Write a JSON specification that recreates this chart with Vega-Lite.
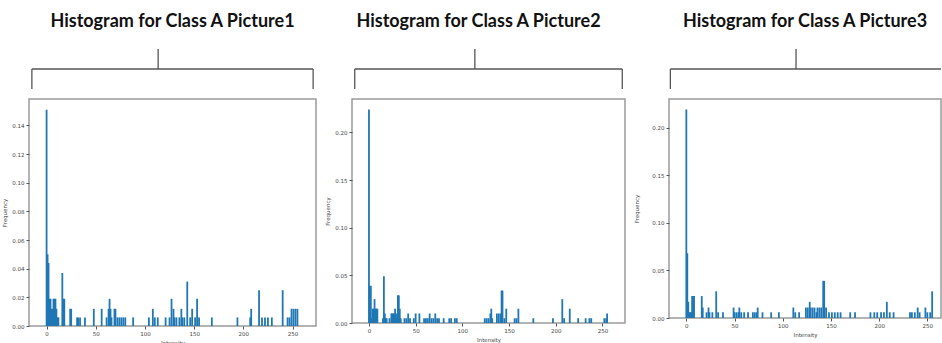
{
  "$schema": "https://vega.github.io/schema/vega-lite/v6.json",
  "padding": {"left": 2, "top": 13, "right": 0, "bottom": 0},
  "background": "white",
  "spacing": 8,
  "config": {
    "view": {"stroke": "#9a9a9a", "strokeWidth": 1.5},
    "axis": {"grid": false, "domain": false, "labelFont": "DejaVu Sans", "labelFontSize": 5.5, "labelColor": "#444", "tickColor": "#555", "tickSize": 3, "labelPadding": 2, "titleFont": "DejaVu Sans", "titleFontSize": 5.5, "titleFontWeight": "normal", "titleColor": "#444"},
    "title": {"font": "Lato", "fontSize": 18, "fontWeight": "bold", "color": "#111", "offset": 17}
  },
  "datasets": {
    "bracket": [
      {"part": "bar", "x": 0.01, "x2": 0.99, "y": 0.5, "y2": 0.5},
      {"part": "stem", "x": 0.45, "x2": 0.45, "y": 0.5, "y2": 1},
      {"part": "left", "x": 0.01, "x2": 0.01, "y": 0, "y2": 0.5},
      {"part": "right", "x": 0.99, "x2": 0.99, "y": 0, "y2": 0.5}
    ],
    "bracket3": [
      {"part": "bar", "x": 0.005, "x2": 1, "y": 0.5, "y2": 0.5},
      {"part": "stem", "x": 0.467, "x2": 0.467, "y": 0.5, "y2": 1},
      {"part": "left", "x": 0.005, "x2": 0.005, "y": 0, "y2": 0.5}
    ],
    "p1": [
      {"intensity": 0, "freq": 0.151}, {"intensity": 1, "freq": 0.050}, {"intensity": 2, "freq": 0.044},
      {"intensity": 3, "freq": 0.019}, {"intensity": 4, "freq": 0.019}, {"intensity": 5, "freq": 0.012},
      {"intensity": 6, "freq": 0.012}, {"intensity": 7, "freq": 0.019}, {"intensity": 8, "freq": 0.019},
      {"intensity": 9, "freq": 0.019}, {"intensity": 10, "freq": 0.012}, {"intensity": 11, "freq": 0.006},
      {"intensity": 12, "freq": 0.006}, {"intensity": 16, "freq": 0.037}, {"intensity": 17, "freq": 0.019},
      {"intensity": 18, "freq": 0.019}, {"intensity": 24, "freq": 0.012}, {"intensity": 25, "freq": 0.012},
      {"intensity": 31, "freq": 0.006}, {"intensity": 32, "freq": 0.006}, {"intensity": 34, "freq": 0.006},
      {"intensity": 39, "freq": 0.006}, {"intensity": 48, "freq": 0.012}, {"intensity": 56, "freq": 0.012},
      {"intensity": 61, "freq": 0.006}, {"intensity": 63, "freq": 0.012}, {"intensity": 64, "freq": 0.019},
      {"intensity": 65, "freq": 0.012}, {"intensity": 66, "freq": 0.006}, {"intensity": 69, "freq": 0.012},
      {"intensity": 70, "freq": 0.012}, {"intensity": 72, "freq": 0.006}, {"intensity": 74, "freq": 0.006},
      {"intensity": 76, "freq": 0.006}, {"intensity": 78, "freq": 0.006}, {"intensity": 80, "freq": 0.006},
      {"intensity": 88, "freq": 0.006}, {"intensity": 104, "freq": 0.006}, {"intensity": 108, "freq": 0.012},
      {"intensity": 110, "freq": 0.006}, {"intensity": 113, "freq": 0.006}, {"intensity": 121, "freq": 0.006},
      {"intensity": 125, "freq": 0.006}, {"intensity": 127, "freq": 0.019}, {"intensity": 129, "freq": 0.012},
      {"intensity": 130, "freq": 0.006}, {"intensity": 132, "freq": 0.006}, {"intensity": 135, "freq": 0.006},
      {"intensity": 137, "freq": 0.012}, {"intensity": 138, "freq": 0.006}, {"intensity": 140, "freq": 0.006},
      {"intensity": 143, "freq": 0.031}, {"intensity": 146, "freq": 0.006}, {"intensity": 148, "freq": 0.012},
      {"intensity": 151, "freq": 0.006}, {"intensity": 153, "freq": 0.019}, {"intensity": 155, "freq": 0.006},
      {"intensity": 168, "freq": 0.006}, {"intensity": 194, "freq": 0.006}, {"intensity": 207, "freq": 0.006},
      {"intensity": 208, "freq": 0.012}, {"intensity": 216, "freq": 0.025}, {"intensity": 219, "freq": 0.006},
      {"intensity": 222, "freq": 0.006}, {"intensity": 225, "freq": 0.006}, {"intensity": 229, "freq": 0.006},
      {"intensity": 240, "freq": 0.025}, {"intensity": 245, "freq": 0.006}, {"intensity": 247, "freq": 0.006},
      {"intensity": 249, "freq": 0.012}, {"intensity": 251, "freq": 0.012}, {"intensity": 253, "freq": 0.012},
      {"intensity": 255, "freq": 0.012}
    ],
    "p2": [
      {"intensity": 0, "freq": 0.224}, {"intensity": 1, "freq": 0.039}, {"intensity": 2, "freq": 0.039},
      {"intensity": 3, "freq": 0.005}, {"intensity": 4, "freq": 0.015}, {"intensity": 5, "freq": 0.015},
      {"intensity": 6, "freq": 0.025}, {"intensity": 7, "freq": 0.015}, {"intensity": 8, "freq": 0.015},
      {"intensity": 9, "freq": 0.015}, {"intensity": 15, "freq": 0.005}, {"intensity": 16, "freq": 0.049},
      {"intensity": 17, "freq": 0.010}, {"intensity": 18, "freq": 0.005}, {"intensity": 19, "freq": 0.005},
      {"intensity": 22, "freq": 0.005}, {"intensity": 24, "freq": 0.010}, {"intensity": 25, "freq": 0.010},
      {"intensity": 26, "freq": 0.010}, {"intensity": 27, "freq": 0.010}, {"intensity": 28, "freq": 0.015},
      {"intensity": 29, "freq": 0.005}, {"intensity": 30, "freq": 0.010}, {"intensity": 31, "freq": 0.029},
      {"intensity": 32, "freq": 0.029}, {"intensity": 33, "freq": 0.015}, {"intensity": 34, "freq": 0.005},
      {"intensity": 38, "freq": 0.005}, {"intensity": 40, "freq": 0.005}, {"intensity": 42, "freq": 0.010},
      {"intensity": 44, "freq": 0.005}, {"intensity": 48, "freq": 0.005}, {"intensity": 50, "freq": 0.010},
      {"intensity": 54, "freq": 0.010}, {"intensity": 59, "freq": 0.005}, {"intensity": 61, "freq": 0.005},
      {"intensity": 63, "freq": 0.005}, {"intensity": 65, "freq": 0.010}, {"intensity": 67, "freq": 0.005},
      {"intensity": 69, "freq": 0.005}, {"intensity": 71, "freq": 0.010}, {"intensity": 73, "freq": 0.005},
      {"intensity": 75, "freq": 0.005}, {"intensity": 80, "freq": 0.005}, {"intensity": 86, "freq": 0.005},
      {"intensity": 88, "freq": 0.005}, {"intensity": 92, "freq": 0.005}, {"intensity": 94, "freq": 0.005},
      {"intensity": 124, "freq": 0.005}, {"intensity": 126, "freq": 0.005}, {"intensity": 128, "freq": 0.005},
      {"intensity": 130, "freq": 0.010}, {"intensity": 131, "freq": 0.015}, {"intensity": 132, "freq": 0.005},
      {"intensity": 137, "freq": 0.010}, {"intensity": 139, "freq": 0.010}, {"intensity": 141, "freq": 0.010},
      {"intensity": 142, "freq": 0.034}, {"intensity": 143, "freq": 0.034}, {"intensity": 145, "freq": 0.005},
      {"intensity": 147, "freq": 0.015}, {"intensity": 156, "freq": 0.005}, {"intensity": 158, "freq": 0.005},
      {"intensity": 160, "freq": 0.015}, {"intensity": 176, "freq": 0.005}, {"intensity": 197, "freq": 0.005},
      {"intensity": 207, "freq": 0.025}, {"intensity": 209, "freq": 0.005}, {"intensity": 215, "freq": 0.015},
      {"intensity": 224, "freq": 0.005}, {"intensity": 232, "freq": 0.005}, {"intensity": 236, "freq": 0.005},
      {"intensity": 238, "freq": 0.005}, {"intensity": 252, "freq": 0.005}, {"intensity": 254, "freq": 0.005},
      {"intensity": 255, "freq": 0.010}
    ],
    "p3": [
      {"intensity": 0, "freq": 0.219}, {"intensity": 1, "freq": 0.068}, {"intensity": 2, "freq": 0.017},
      {"intensity": 3, "freq": 0.006}, {"intensity": 4, "freq": 0.006}, {"intensity": 5, "freq": 0.006},
      {"intensity": 6, "freq": 0.023}, {"intensity": 7, "freq": 0.023}, {"intensity": 8, "freq": 0.023},
      {"intensity": 16, "freq": 0.023}, {"intensity": 17, "freq": 0.011}, {"intensity": 21, "freq": 0.006},
      {"intensity": 23, "freq": 0.011}, {"intensity": 24, "freq": 0.006}, {"intensity": 27, "freq": 0.006},
      {"intensity": 31, "freq": 0.028}, {"intensity": 33, "freq": 0.006}, {"intensity": 38, "freq": 0.006},
      {"intensity": 49, "freq": 0.011}, {"intensity": 50, "freq": 0.006}, {"intensity": 52, "freq": 0.006},
      {"intensity": 54, "freq": 0.006}, {"intensity": 55, "freq": 0.011}, {"intensity": 57, "freq": 0.006},
      {"intensity": 60, "freq": 0.006}, {"intensity": 64, "freq": 0.006}, {"intensity": 69, "freq": 0.006},
      {"intensity": 71, "freq": 0.006}, {"intensity": 73, "freq": 0.006}, {"intensity": 74, "freq": 0.011},
      {"intensity": 79, "freq": 0.006}, {"intensity": 88, "freq": 0.006}, {"intensity": 96, "freq": 0.006},
      {"intensity": 111, "freq": 0.011}, {"intensity": 113, "freq": 0.006}, {"intensity": 117, "freq": 0.006},
      {"intensity": 124, "freq": 0.011}, {"intensity": 126, "freq": 0.011}, {"intensity": 128, "freq": 0.017},
      {"intensity": 129, "freq": 0.011}, {"intensity": 131, "freq": 0.011}, {"intensity": 133, "freq": 0.011},
      {"intensity": 135, "freq": 0.006}, {"intensity": 136, "freq": 0.011}, {"intensity": 138, "freq": 0.011},
      {"intensity": 140, "freq": 0.011}, {"intensity": 142, "freq": 0.039}, {"intensity": 143, "freq": 0.039},
      {"intensity": 145, "freq": 0.011}, {"intensity": 148, "freq": 0.006}, {"intensity": 151, "freq": 0.006},
      {"intensity": 154, "freq": 0.006}, {"intensity": 157, "freq": 0.006}, {"intensity": 160, "freq": 0.006},
      {"intensity": 170, "freq": 0.006}, {"intensity": 175, "freq": 0.006}, {"intensity": 191, "freq": 0.006},
      {"intensity": 195, "freq": 0.006}, {"intensity": 198, "freq": 0.006}, {"intensity": 202, "freq": 0.006},
      {"intensity": 205, "freq": 0.006}, {"intensity": 208, "freq": 0.017}, {"intensity": 211, "freq": 0.006},
      {"intensity": 215, "freq": 0.006}, {"intensity": 232, "freq": 0.006}, {"intensity": 234, "freq": 0.006},
      {"intensity": 237, "freq": 0.006}, {"intensity": 240, "freq": 0.011}, {"intensity": 242, "freq": 0.006},
      {"intensity": 248, "freq": 0.011}, {"intensity": 250, "freq": 0.006}, {"intensity": 253, "freq": 0.006},
      {"intensity": 255, "freq": 0.028}
    ]
  },
  "hconcat": [
    {
      "spacing": 8,
      "vconcat": [
        {
          "title": "Histogram for Class A Picture1",
          "width": 287, "height": 40,
          "view": {"stroke": null},
          "data": {"name": "bracket"},
          "mark": {"type": "rule", "color": "#555", "strokeWidth": 1.3},
          "encoding": {
            "x": {"field": "x", "type": "quantitative", "scale": {"domain": [0, 1]}, "axis": null},
            "x2": {"field": "x2"},
            "y": {"field": "y", "type": "quantitative", "scale": {"domain": [0, 1]}, "axis": null},
            "y2": {"field": "y2"}
          }
        },
        {
          "width": 287, "height": 227,
          "data": {"name": "p1"},
          "mark": {"type": "bar", "color": "#1f77b4", "size": 1.8},
          "encoding": {
            "x": {"field": "intensity", "type": "quantitative", "title": "Intensity", "scale": {"domain": [-12.8, 268.8], "nice": false, "zero": false}, "axis": {"values": [0, 50, 100, 150, 200, 250]}},
            "y": {"field": "freq", "type": "quantitative", "title": "Frequency", "scale": {"domain": [0, 0.1585], "nice": false}, "axis": {"values": [0, 0.02, 0.04, 0.06, 0.08, 0.1, 0.12, 0.14], "format": ".2f"}}
          }
        }
      ]
    },
    {
      "spacing": 8,
      "vconcat": [
        {
          "title": {"text": "Histogram for Class A Picture2", "dx": -10},
          "width": 273, "height": 40,
          "view": {"stroke": null},
          "data": {"name": "bracket"},
          "mark": {"type": "rule", "color": "#555", "strokeWidth": 1.3},
          "encoding": {
            "x": {"field": "x", "type": "quantitative", "scale": {"domain": [0, 1]}, "axis": null},
            "x2": {"field": "x2"},
            "y": {"field": "y", "type": "quantitative", "scale": {"domain": [0, 1]}, "axis": null},
            "y2": {"field": "y2"}
          }
        },
        {
          "width": 273, "height": 224,
          "data": {"name": "p2"},
          "mark": {"type": "bar", "color": "#1f77b4", "size": 1.8},
          "encoding": {
            "x": {"field": "intensity", "type": "quantitative", "title": "Intensity", "scale": {"domain": [-12.8, 268.8], "nice": false, "zero": false}, "axis": {"values": [0, 50, 100, 150, 200, 250]}},
            "y": {"field": "freq", "type": "quantitative", "title": "Frequency", "scale": {"domain": [0, 0.235], "nice": false}, "axis": {"values": [0, 0.05, 0.1, 0.15, 0.2], "format": ".2f"}}
          }
        }
      ]
    },
    {
      "spacing": 8,
      "vconcat": [
        {
          "title": "Histogram for Class A Picture3",
          "width": 272, "height": 40,
          "view": {"stroke": null},
          "data": {"name": "bracket3"},
          "mark": {"type": "rule", "color": "#555", "strokeWidth": 1.3},
          "encoding": {
            "x": {"field": "x", "type": "quantitative", "scale": {"domain": [0, 1]}, "axis": null},
            "x2": {"field": "x2"},
            "y": {"field": "y", "type": "quantitative", "scale": {"domain": [0, 1]}, "axis": null},
            "y2": {"field": "y2"}
          }
        },
        {
          "width": 272, "height": 219,
          "data": {"name": "p3"},
          "mark": {"type": "bar", "color": "#1f77b4", "size": 1.8, "clip": true},
          "encoding": {
            "x": {"field": "intensity", "type": "quantitative", "title": "Intensity", "scale": {"domain": [-12.8, 259], "nice": false, "zero": false}, "axis": {"values": [0, 50, 100, 150, 200, 250]}},
            "y": {"field": "freq", "type": "quantitative", "title": "Frequency", "scale": {"domain": [0, 0.23], "nice": false}, "axis": {"values": [0, 0.05, 0.1, 0.15, 0.2], "format": ".2f", "titlePadding": 12}}
          }
        }
      ]
    }
  ]
}
